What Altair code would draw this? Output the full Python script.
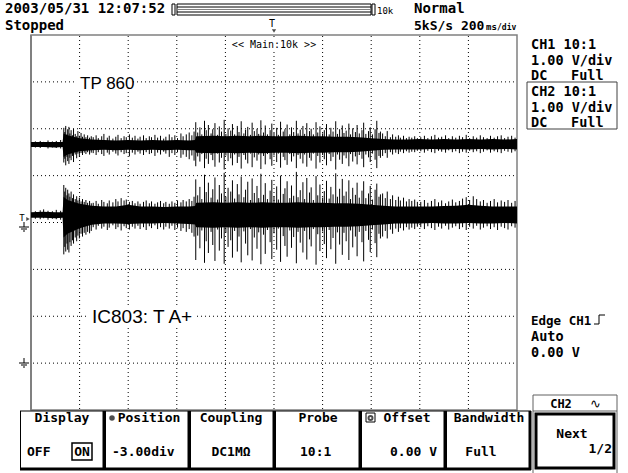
import altair as alt
import pandas as pd

# ---------------- data (200 ms/div, 1.00 V/div) ----------------
# Solid core of each trace, time in ms, volts relative to each channel's ground marker
core_t = [0, 50, 100, 130, 134, 150, 200, 250, 300, 350, 400, 450, 500, 550, 600, 650,
          675, 680, 750, 800, 850, 900, 950, 1000, 1050, 1100, 1150, 1200, 1250, 1300,
          1350, 1400, 1450, 1500, 1550, 1600, 1650, 1700, 1750, 1800, 1850, 1900, 1950, 2000]
ch1_core_hi = [1.72, 1.72, 1.72, 1.72, 1.90, 1.86, 1.80, 1.77, 1.76, 1.75, 1.76, 1.75, 1.76, 1.75,
               1.76, 1.75, 1.76, 1.84, 1.85, 1.84, 1.85, 1.84, 1.85, 1.84, 1.84, 1.85, 1.84, 1.84,
               1.83, 1.83, 1.82, 1.80, 1.78, 1.77, 1.77, 1.78, 1.77, 1.78, 1.77, 1.78, 1.77, 1.78,
               1.77, 1.78]
ch1_core_lo = [1.61, 1.61, 1.60, 1.61, 1.40, 1.45, 1.52, 1.54, 1.55, 1.54, 1.55, 1.54, 1.55, 1.54,
               1.55, 1.54, 1.54, 1.49, 1.48, 1.49, 1.48, 1.49, 1.48, 1.49, 1.49, 1.48, 1.49, 1.49,
               1.50, 1.50, 1.51, 1.53, 1.55, 1.56, 1.56, 1.56, 1.57, 1.56, 1.57, 1.56, 1.57, 1.56,
               1.57, 1.56]
ch2_core_hi = [3.22, 3.23, 3.22, 3.22, 3.55, 3.48, 3.40, 3.36, 3.34, 3.34, 3.38, 3.34, 3.34, 3.33,
               3.34, 3.34, 3.35, 3.42, 3.43, 3.42, 3.43, 3.42, 3.43, 3.42, 3.42, 3.43, 3.42, 3.42,
               3.41, 3.41, 3.40, 3.38, 3.36, 3.34, 3.34, 3.34, 3.34, 3.35, 3.36, 3.38, 3.36, 3.34,
               3.34, 3.34]
ch2_core_lo = [3.10, 3.10, 3.09, 3.10, 2.68, 2.76, 2.88, 2.95, 2.98, 2.98, 2.97, 2.98, 2.98, 2.99,
               2.98, 2.97, 2.96, 2.90, 2.89, 2.90, 2.89, 2.90, 2.89, 2.90, 2.90, 2.89, 2.90, 2.90,
               2.91, 2.91, 2.92, 2.94, 2.96, 2.98, 2.98, 2.98, 2.99, 2.98, 2.98, 2.99, 2.98, 2.98,
               2.99, 2.98]

# Noise spikes (min / max of a display column), time in ms
spike_t = [18, 38, 52, 70, 88, 104, 122,
           135, 139, 143, 148, 151, 156, 160, 165, 171, 175, 182, 188, 193, 199, 206, 212, 219,
           226, 233, 241, 248,
           256, 268, 277, 291, 300, 314, 322, 337, 349, 358, 371, 383, 392, 405, 417, 428, 440,
           449, 463, 474, 487, 496, 510, 521, 533, 546, 555, 569, 580, 592, 603, 617, 626, 639,
           651, 662, 671,
           678, 686, 695, 703, 714, 721, 730, 741, 748, 757,
           768, 775, 784, 795, 802, 811, 822, 829, 838, 849,
           856, 865, 876, 883, 892, 903, 910, 919, 930, 937,
           946, 957, 964, 973, 984, 991, 1000, 1011, 1018, 1027,
           1038, 1045, 1054, 1065, 1072, 1081, 1092, 1099, 1108, 1119,
           1126, 1135, 1146, 1153, 1162, 1173, 1180, 1189, 1200, 1207,
           1216, 1227, 1234, 1243, 1254, 1261, 1270, 1281, 1288, 1297,
           1308, 1315, 1324, 1335, 1342, 1351, 1362, 1369, 1378, 1389,
           1396, 1405, 1416, 1423, 1432, 1438,
           1447, 1458, 1466, 1479, 1488, 1501, 1512, 1520, 1533, 1545, 1556, 1567, 1579, 1590,
           1604, 1619, 1633, 1648, 1662, 1677, 1690, 1706, 1719, 1734, 1748, 1763, 1776, 1791,
           1805, 1820, 1834, 1849, 1862, 1877, 1891, 1906, 1920, 1935, 1949, 1963, 1978, 1992]
ch1_spk_hi = [1.73, 1.74, 1.72, 1.75, 1.73, 1.74, 1.76,
              2.02, 1.93, 2.06, 1.88, 1.99, 2.04, 1.90, 1.97, 1.86, 2.00, 1.89, 1.84, 1.95, 1.85,
              1.91, 1.83, 1.88, 1.82, 1.86, 1.81, 1.84,
              1.82, 1.86, 1.80, 1.84, 1.89, 1.81, 1.85, 1.79, 1.83, 1.87, 1.80, 1.84, 1.82, 1.88,
              1.81, 1.85, 1.79, 1.83, 1.86, 1.80, 1.84, 1.82, 1.87, 1.81, 1.85, 1.79, 1.83, 1.88,
              1.82, 1.86, 1.80, 1.90, 1.84, 1.88, 1.92, 1.86, 1.94,
              2.14, 1.92, 2.03, 1.88, 2.17, 1.97, 2.08, 1.90, 1.99, 2.12,
              1.87, 2.05, 1.94, 2.19, 1.89, 2.01, 1.96, 2.10, 1.88, 2.06,
              1.93, 2.16, 1.90, 1.98, 2.04, 1.87, 2.13, 1.95, 2.00, 1.89,
              2.18, 1.92, 2.07, 1.88, 1.97, 2.11, 1.91, 2.02, 1.87, 2.15,
              1.94, 1.99, 2.09, 1.88, 2.03, 1.93, 2.17, 1.90, 1.98, 2.06,
              1.89, 2.12, 1.95, 2.00, 1.88, 2.14, 1.92, 2.05, 1.90, 1.97,
              2.10, 1.88, 2.02, 1.94, 2.16, 1.89, 1.99, 2.07, 1.91, 1.96,
              2.11, 1.88, 2.01, 1.93, 2.08, 1.90, 1.97, 2.13, 1.89, 1.95,
              2.03, 1.88, 1.99, 2.17, 1.91, 1.94,
              1.90, 1.84, 1.95, 1.82, 1.88, 1.83, 1.86, 1.81, 1.85, 1.80, 1.83, 1.81, 1.84, 1.80,
              1.82, 1.85, 1.80, 1.84, 1.87, 1.81, 1.83, 1.86, 1.80, 1.84, 1.81, 1.85, 1.82, 1.87,
              1.80, 1.84, 1.81, 1.86, 1.82, 1.80, 1.85, 1.81, 1.84, 1.86, 1.80, 1.83, 1.85, 1.81]
ch1_spk_lo = [1.60, 1.59, 1.61, 1.58, 1.60, 1.59, 1.58,
              1.28, 1.36, 1.22, 1.40, 1.31, 1.25, 1.38, 1.33, 1.42, 1.29, 1.45, 1.37, 1.47, 1.40,
              1.48, 1.44, 1.49, 1.46, 1.50, 1.45, 1.49,
              1.48, 1.44, 1.50, 1.46, 1.42, 1.49, 1.45, 1.51, 1.47, 1.43, 1.50, 1.46, 1.48, 1.41,
              1.49, 1.45, 1.51, 1.47, 1.44, 1.50, 1.46, 1.48, 1.42, 1.49, 1.45, 1.51, 1.47, 1.40,
              1.48, 1.44, 1.50, 1.38, 1.45, 1.40, 1.35, 1.43, 1.32,
              1.20, 1.41, 1.30, 1.46, 1.16, 1.36, 1.25, 1.44, 1.33, 1.19,
              1.47, 1.28, 1.38, 1.13, 1.43, 1.31, 1.37, 1.22, 1.45, 1.27,
              1.40, 1.15, 1.44, 1.34, 1.26, 1.47, 1.18, 1.39, 1.32, 1.45,
              1.14, 1.42, 1.24, 1.46, 1.35, 1.21, 1.43, 1.29, 1.47, 1.17,
              1.40, 1.33, 1.23, 1.46, 1.30, 1.41, 1.16, 1.44, 1.36, 1.26,
              1.45, 1.19, 1.38, 1.32, 1.47, 1.15, 1.42, 1.28, 1.44, 1.35,
              1.22, 1.46, 1.31, 1.40, 1.13, 1.45, 1.34, 1.25, 1.43, 1.37,
              1.20, 1.46, 1.30, 1.41, 1.24, 1.44, 1.36, 1.18, 1.45, 1.39,
              1.29, 1.47, 1.34, 1.16, 1.42, 1.38,
              1.42, 1.48, 1.38, 1.50, 1.45, 1.49, 1.46, 1.51, 1.48, 1.52, 1.49, 1.51, 1.50, 1.53,
              1.52, 1.49, 1.53, 1.50, 1.48, 1.53, 1.51, 1.49, 1.54, 1.50, 1.52, 1.48, 1.51, 1.49,
              1.53, 1.50, 1.52, 1.48, 1.51, 1.54, 1.49, 1.52, 1.50, 1.48, 1.53, 1.51, 1.49, 1.52]
ch2_spk_hi = [3.24, 3.26, 3.28, 3.25, 3.24, 3.27, 3.25,
              3.80, 3.66, 3.74, 3.58, 3.70, 3.62, 3.55, 3.66, 3.52, 3.60, 3.50, 3.56, 3.47, 3.53,
              3.45, 3.50, 3.44, 3.48, 3.42, 3.46, 3.41,
              3.42, 3.46, 3.40, 3.48, 3.44, 3.41, 3.47, 3.43, 3.50, 3.45, 3.52, 3.47, 3.49, 3.44,
              3.46, 3.41, 3.45, 3.40, 3.44, 3.47, 3.41, 3.45, 3.40, 3.43, 3.46, 3.41, 3.44, 3.40,
              3.45, 3.42, 3.47, 3.43, 3.48, 3.45, 3.50, 3.46, 3.55,
              3.92, 3.58, 3.76, 3.50, 4.02, 3.65, 3.85, 3.53, 3.71, 3.96,
              3.49, 3.80, 3.62, 4.06, 3.55, 3.74, 3.66, 3.90, 3.51, 3.82,
              3.60, 3.98, 3.54, 3.70, 3.87, 3.48, 3.94, 3.63, 3.78, 3.52,
              4.04, 3.59, 3.84, 3.50, 3.68, 3.91, 3.56, 3.77, 3.49, 4.00,
              3.61, 3.73, 3.88, 3.52, 3.79, 3.57, 4.08, 3.54, 3.69, 3.86,
              3.50, 3.95, 3.64, 3.75, 3.48, 3.99, 3.58, 3.81, 3.53, 3.67,
              3.89, 3.51, 3.76, 3.60, 4.05, 3.55, 3.72, 3.93, 3.57, 3.66,
              3.90, 3.50, 3.74, 3.59, 3.85, 3.53, 3.68, 3.88, 3.52, 3.62,
              3.78, 3.49, 3.70, 3.83, 3.55, 3.60,
              3.62, 3.52, 3.66, 3.50, 3.58, 3.48, 3.55, 3.47, 3.53, 3.45, 3.50, 3.46, 3.49, 3.44,
              3.44, 3.48, 3.42, 3.46, 3.50, 3.43, 3.47, 3.41, 3.45, 3.49, 3.43, 3.46, 3.51, 3.54,
              3.48, 3.56, 3.50, 3.45, 3.48, 3.42, 3.46, 3.50, 3.43, 3.47, 3.44, 3.48, 3.42, 3.46]
ch2_spk_lo = [3.08, 3.07, 3.09, 3.06, 3.08, 3.07, 3.06,
              2.32, 2.48, 2.38, 2.55, 2.42, 2.36, 2.58, 2.50, 2.62, 2.55, 2.68, 2.60, 2.72, 2.66,
              2.76, 2.70, 2.78, 2.74, 2.80, 2.77, 2.82,
              2.90, 2.85, 2.93, 2.87, 2.91, 2.84, 2.89, 2.94, 2.86, 2.90, 2.83, 2.92, 2.88, 2.85,
              2.91, 2.87, 2.93, 2.86, 2.90, 2.84, 2.92, 2.88, 2.94, 2.86, 2.90, 2.85, 2.91, 2.87,
              2.93, 2.84, 2.89, 2.82, 2.88, 2.80, 2.86, 2.78, 2.70,
              2.20, 2.72, 2.45, 2.83, 2.14, 2.60, 2.35, 2.80, 2.52, 2.18,
              2.85, 2.40, 2.66, 2.12, 2.78, 2.48, 2.62, 2.25, 2.82, 2.38,
              2.70, 2.15, 2.81, 2.55, 2.30, 2.86, 2.19, 2.68, 2.44, 2.79,
              2.11, 2.74, 2.33, 2.84, 2.58, 2.22, 2.77, 2.42, 2.87, 2.16,
              2.71, 2.50, 2.27, 2.83, 2.46, 2.69, 2.13, 2.80, 2.57, 2.36,
              2.82, 2.21, 2.64, 2.49, 2.86, 2.10, 2.75, 2.39, 2.81, 2.54,
              2.24, 2.84, 2.43, 2.67, 2.12, 2.79, 2.53, 2.31, 2.78, 2.60,
              2.20, 2.83, 2.47, 2.70, 2.28, 2.80, 2.58, 2.17, 2.82, 2.63,
              2.37, 2.85, 2.56, 2.26, 2.76, 2.66,
              2.70, 2.82, 2.66, 2.85, 2.76, 2.87, 2.80, 2.88, 2.83, 2.90, 2.85, 2.89, 2.86, 2.91,
              2.90, 2.86, 2.92, 2.88, 2.84, 2.91, 2.87, 2.93, 2.85, 2.89, 2.92, 2.86, 2.90, 2.84,
              2.91, 2.87, 2.93, 2.85, 2.89, 2.92, 2.86, 2.90, 2.84, 2.91, 2.88, 2.85, 2.92, 2.89]

grid_t = [200, 400, 600, 800, 1000, 1200, 1400, 1600, 1800]   # vertical graticule (ms)
grid_div = [-3, -2, -1, 0, 1, 2, 3]                            # horizontal graticule (div)

CH1_POS = 0.0
CH2_POS = -3.0

assert len(ch1_core_hi) == len(ch1_core_lo) == len(ch2_core_hi) == len(ch2_core_lo) == len(core_t)
assert len(ch1_spk_hi) == len(ch1_spk_lo) == len(ch2_spk_hi) == len(ch2_spk_lo) == len(spike_t)

# ---------------- helpers ----------------
MONO = "DejaVu Sans Mono"
SANS = "Liberation Sans"
XS = alt.Scale(domain=[-127.57, 2456.79], nice=False, zero=False)
YS = alt.Scale(domain=[-5.344, 4.7467], nice=False, zero=False)
ONE = pd.DataFrame({"k": [0]})


def txt(x, y, s, size=13, font=MONO, weight="bold", align="left", color="black"):
    return alt.Chart(ONE).mark_text(text=s, fontSize=size, font=font, fontWeight=weight,
                                    align=align, baseline="alphabetic", color=color
                                    ).encode(x=alt.value(x), y=alt.value(y))


def hline(x1, x2, y, w=1, color="black", dash=None):
    kw = dict(color=color, strokeWidth=w)
    if dash:
        kw["strokeDash"] = dash
    return alt.Chart(ONE).mark_rule(**kw).encode(x=alt.value(x1), x2=alt.value(x2), y=alt.value(y))


def vline(x, y1, y2, w=1, color="black", dash=None):
    kw = dict(color=color, strokeWidth=w)
    if dash:
        kw["strokeDash"] = dash
    return alt.Chart(ONE).mark_rule(**kw).encode(x=alt.value(x), y=alt.value(y1), y2=alt.value(y2))


def box(x1, y1, x2, y2, stroke="black", w=1):
    return alt.Chart(ONE).mark_rect(fill="white", fillOpacity=0.0, stroke=stroke,
                                    strokeWidth=w).encode(
        x=alt.value(x1), x2=alt.value(x2), y=alt.value(y1), y2=alt.value(y2))


def wbox(x1, y1, x2, y2):
    return alt.Chart(ONE).mark_rect(fill="white", fillOpacity=1.0).encode(
        x=alt.value(x1), x2=alt.value(x2), y=alt.value(y1), y2=alt.value(y2))


layers = []

# graticule
gv = pd.DataFrame({"t": grid_t})
layers.append(alt.Chart(gv).mark_rule(color="black", strokeWidth=1, strokeDash=[1, 3]).encode(
    x=alt.X("t:Q", scale=XS, axis=None), y=alt.value(36), y2=alt.value(410)))
gh = pd.DataFrame({"s": grid_div})
layers.append(alt.Chart(gh).mark_rule(color="black", strokeWidth=1, strokeDash=[1, 3]).encode(
    y=alt.Y("s:Q", scale=YS, axis=None), x=alt.value(33), x2=alt.value(516)))

# label backgrounds
layers.append(wbox(76, 72, 132, 92))
layers.append(wbox(89, 305, 197, 327))
layers.append(wbox(228, 38, 320, 50))

# frame
layers.append(box(31, 35, 517, 410, stroke="#808080", w=1.5))
layers.append(vline(31, 35, 410, w=2, color="#808080"))

# traces
for hi, lo, pos in [(ch1_core_hi, ch1_core_lo, CH1_POS), (ch2_core_hi, ch2_core_lo, CH2_POS)]:
    d = pd.DataFrame({"t": core_t, "hi": [v + pos for v in hi], "lo": [v + pos for v in lo]})
    layers.append(alt.Chart(d).mark_area(color="black", opacity=1).encode(
        x=alt.X("t:Q", scale=XS, axis=None), y=alt.Y("hi:Q", scale=YS, axis=None), y2="lo:Q"))
for hi, lo, pos in [(ch1_spk_hi, ch1_spk_lo, CH1_POS), (ch2_spk_hi, ch2_spk_lo, CH2_POS)]:
    d = pd.DataFrame({"t": spike_t, "hi": [v + pos for v in hi], "lo": [v + pos for v in lo]})
    layers.append(alt.Chart(d).mark_rule(color="black", strokeWidth=1).encode(
        x=alt.X("t:Q", scale=XS, axis=None), y=alt.Y("hi:Q", scale=YS, axis=None), y2="lo:Q"))

# in-graticule labels
layers.append(txt(80, 89, "TP 860", size=17, font=SANS, weight="normal"))
layers.append(txt(92, 323, "IC803: T A+", size=19, font=SANS, weight="normal"))
layers.append(txt(274, 48, "<< Main:10k >>", size=10, weight="normal", align="center"))

# header
layers.append(txt(5, 13, "2003/05/31 12:07:52", size=14))
layers.append(txt(5, 30, "Stopped", size=14))
layers.append(box(172, 4, 175, 15))
layers.append(box(177, 4, 371, 15))
layers.append(hline(177, 371, 7))
layers.append(hline(177, 371, 9.5, color="#808080"))
layers.append(hline(177, 371, 12))
layers.append(box(372, 4, 375, 15))
layers.append(txt(377, 14, "10k", size=9, weight="normal"))
layers.append(txt(272, 27, "T", size=10, weight="normal", align="center"))
layers.append(alt.Chart(ONE).mark_point(shape="triangle-down", size=18, filled=True, color="black").encode(
    x=alt.value(274), y=alt.value(31)))
layers.append(txt(414, 13, "Normal", size=14))
layers.append(txt(414, 30, "5kS/s 200", size=13))
layers.append(txt(486, 30, "ms", size=9))
layers.append(txt(497, 30, "/div", size=8))

# right panel
layers.append(txt(531, 49, "CH1 10:1", size=13.5))
layers.append(txt(531, 65, "1.00 V/div", size=13.5))
layers.append(txt(531, 80, "DC", size=13.5))
layers.append(txt(571, 80, "Full", size=13.5))
layers.append(box(527, 82, 617, 129, stroke="#404040", w=1))
layers.append(txt(531, 96, "CH2 10:1", size=13.5))
layers.append(txt(531, 112, "1.00 V/div", size=13.5))
layers.append(txt(531, 127, "DC", size=13.5))
layers.append(txt(571, 127, "Full", size=13.5))
layers.append(txt(531, 325, "Edge CH1", size=12.5))
layers.append(hline(594, 599, 324))
layers.append(vline(599, 315, 324))
layers.append(hline(599, 605, 315))
layers.append(txt(531, 341, "Auto", size=13.5))
layers.append(txt(531, 357, "0.00 V", size=13.5))

# ground / trigger markers
layers.append(txt(22, 221, "T", size=9, weight="normal", align="center"))
layers.append(alt.Chart(ONE).mark_point(shape="triangle-right", size=16, filled=True, color="black").encode(
    x=alt.value(28), y=alt.value(219)))
layers.append(vline(24, 222, 227))
layers.append(hline(19, 29, 227))
layers.append(hline(21, 27, 229))
layers.append(hline(23, 25, 231))
layers.append(vline(24, 358, 363))
layers.append(hline(19, 29, 363))
layers.append(hline(21, 27, 365))
layers.append(hline(23, 25, 367))

# soft-key menu
edges = [20, 105, 190, 275, 361, 446, 531]
for L, R in zip(edges[:-1], edges[1:]):
    layers.append(hline(L, R, 411))
    layers.append(vline(L + 0.5, 411, 470))
    layers.append(vline(R - 1, 411, 470, w=3))
    layers.append(hline(L, R, 469, w=3))
heads = [(62, "Display"), (149, "Position"), (231, "Coupling"), (318, "Probe"),
         (407, "Offset"), (489, "Bandwidth")]
for cx, s in heads:
    layers.append(txt(cx, 422, s, size=13, align="center"))
layers.append(alt.Chart(ONE).mark_point(shape="circle", size=30, filled=True, color="black").encode(
    x=alt.value(112), y=alt.value(418)))
layers.append(box(366, 413, 375, 422, w=1))
layers.append(alt.Chart(ONE).mark_point(shape="circle", size=16, filled=False, color="black").encode(
    x=alt.value(370.5), y=alt.value(418)))
layers.append(txt(27, 456, "OFF", size=13))
layers.append(box(72, 443, 92, 460, w=1.5))
layers.append(txt(82, 456, "ON", size=13, align="center"))
layers.append(txt(112, 456, "-3.00div", size=13))
layers.append(txt(231, 456, "DC1MΩ", size=13, align="center"))
layers.append(txt(300, 456, "10:1", size=13))
layers.append(txt(437, 456, "0.00 V", size=13, align="right"))
layers.append(txt(481, 456, "Full", size=13, align="center"))

# right soft-key
layers.append(box(533, 395, 617, 411, stroke="#606060", w=1))
layers.append(txt(561, 408, "CH2", size=12, align="center"))
layers.append(txt(595, 408, "∿", size=13, weight="normal", align="center"))
layers.append(vline(533, 411, 473, color="#606060"))
layers.append(vline(617, 411, 473, color="#606060"))
layers.append(box(536, 414, 614, 468, w=3))
layers.append(txt(572, 438, "Next", size=13, align="center"))
layers.append(txt(612, 453, "1/2", size=13, align="right"))

chart = alt.layer(*layers).properties(
    width=628, height=473, padding=0, autosize="none", background="white"
).configure_view(stroke=None)

chart.save("out.html", embed_options={"renderer": "svg", "actions": False})
